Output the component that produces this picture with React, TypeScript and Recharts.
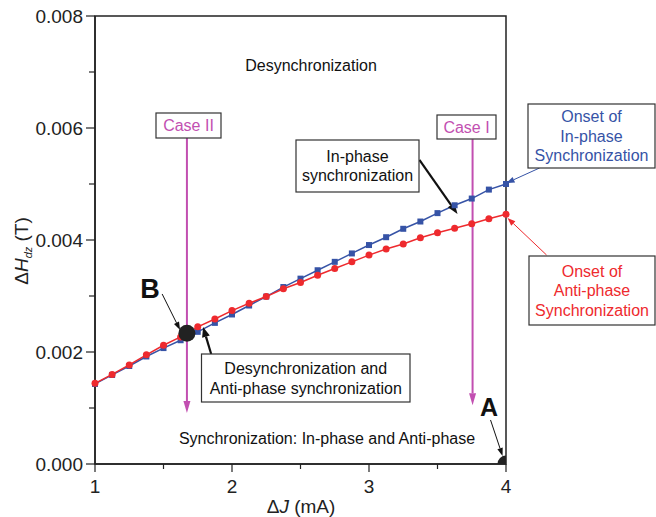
import { ComposedChart, Line, XAxis, YAxis, ReferenceArea, ReferenceLine, ReferenceDot } from "recharts";

// Current difference ΔJ (mA)
const currents = [1, 1.125, 1.25, 1.375, 1.5, 1.625, 1.75, 1.875, 2, 2.125, 2.25, 2.375, 2.5, 2.625, 2.75, 2.875, 3, 3.125, 3.25, 3.375, 3.5, 3.625, 3.75, 3.875, 4];
const antiPhase = [0.00144, 0.0016, 0.00177, 0.00195, 0.00212, 0.00227, 0.00245, 0.00259, 0.00274, 0.00287, 0.00299, 0.00313, 0.00324, 0.00337, 0.00349, 0.00361, 0.00373, 0.00384, 0.00393, 0.00404, 0.00413, 0.00421, 0.00429, 0.00438, 0.00446];
const inPhase = [0.00143, 0.00159, 0.00175, 0.00192, 0.00207, 0.00221, 0.00236, 0.00252, 0.00267, 0.00283, 0.00299, 0.00316, 0.00331, 0.00346, 0.00361, 0.00376, 0.00391, 0.00405, 0.0042, 0.00433, 0.00448, 0.00462, 0.00474, 0.0049, 0.005];
const xTicks = [1, 1.5, 2, 2.5, 3, 3.5, 4];
const yTicks = [0, 0.001, 0.002, 0.003, 0.004, 0.005, 0.006, 0.007, 0.008];

const data = currents.map((j, i) => ({ j, anti: antiPhase[i], inph: inPhase[i] }));

const FONT = "'Liberation Sans', Arial, sans-serif";
const BLUE = "#3653a6";
const RED = "#ee2a2e";
const MAGENTA = "#c24fb1";

function arrow(color: string, sw: number, len: number, half: number) {
  return (p: any) => {
    const { x1, y1, x2, y2 } = p;
    const a = Math.atan2(y2 - y1, x2 - x1);
    const bx = x2 - len * Math.cos(a);
    const by = y2 - len * Math.sin(a);
    const px = -Math.sin(a) * half;
    const py = Math.cos(a) * half;
    return (
      <g>
        <line x1={x1} y1={y1} x2={bx} y2={by} stroke={color} strokeWidth={sw} />
        <polygon points={`${x2},${y2} ${bx + px},${by + py} ${bx - px},${by - py}`} fill={color} />
      </g>
    );
  };
}

const XTick = (p: any) => {
  const v = p.payload.value;
  const major = Number.isInteger(v);
  return (
    <g>
      <line x1={p.x} x2={p.x} y1={p.y} y2={p.y + (major ? 8 : 5)} stroke="#222" strokeWidth={1.2} />
      {major && (
        <text x={p.x} y={p.y + 29} textAnchor="middle" fontSize={19} fontFamily={FONT} fill="#222">
          {v}
        </text>
      )}
    </g>
  );
};

const YTick = (p: any) => {
  const v = p.payload.value;
  const major = Math.round(v * 1000) % 2 === 0;
  return (
    <g>
      <line x1={p.x - (major ? 9 : 6)} x2={p.x} y1={p.y} y2={p.y} stroke="#222" strokeWidth={1.2} />
      {major && (
        <text x={p.x - 12} y={p.y + 6.5} textAnchor="end" fontSize={19} fontFamily={FONT} fill="#222">
          {v.toFixed(3)}
        </text>
      )}
    </g>
  );
};

const Square = (p: any) => (
  <rect key={p.key} x={p.cx - 3} y={p.cy - 3} width={6} height={6} fill={BLUE} />
);

function Box({ x, y, w, h, lines, color, lh }: { x: number; y: number; w: number; h: number; lines: string[]; color: string; lh: number }) {
  const cx = x + w / 2;
  const start = y + h / 2 - ((lines.length - 1) * lh) / 2 + 5.5;
  return (
    <g>
      <rect x={x} y={y} width={w} height={h} fill="#fff" stroke="#333" strokeWidth={1.2} />
      {lines.map((t, i) => (
        <text key={i} x={cx} y={start + i * lh} textAnchor="middle" fontSize={16} fontFamily={FONT} fill={color}>
          {t}
        </text>
      ))}
    </g>
  );
}

export default function App() {
  return (
    <div style={{ position: "absolute", left: 0, top: 0, width: 656, height: 517, background: "#fff" }}>
      <ComposedChart width={656} height={517} data={data} margin={{ top: 16, right: 150, bottom: 0, left: 0 }}>
        <XAxis
          dataKey="j"
          type="number"
          domain={[1, 4]}
          ticks={xTicks}
          tickSize={0}
          tickMargin={0}
          tick={<XTick />}
          height={53}
          axisLine={{ stroke: "#222", strokeWidth: 1.5 }}
          tickLine={false}
        />
        <YAxis
          type="number"
          domain={[0, 0.008]}
          ticks={yTicks}
          tickSize={0}
          tickMargin={0}
          tick={<YTick />}
          width={95}
          axisLine={{ stroke: "#222", strokeWidth: 1.5 }}
          tickLine={false}
        />
        <ReferenceArea x1={1} x2={4} y1={0} y2={0.008} fill="none" stroke="#222" strokeWidth={1.5} />
        <Line dataKey="inph" stroke={BLUE} strokeWidth={1.5} dot={Square} isAnimationActive={false} />
        <Line dataKey="anti" stroke={RED} strokeWidth={1.5} dot={{ r: 3.5, fill: RED, stroke: RED, strokeWidth: 0 }} isAnimationActive={false} />
        <ReferenceDot x={1.671} y={0.002334} r={8.5} fill="#222" stroke="none" ifOverflow="visible" />
        <ReferenceDot x={4} y={0} r={8.5} fill="#222" stroke="none" ifOverflow="hidden" />
        <ReferenceLine segment={[{ x: 1.671, y: 0.00582 }, { x: 1.671, y: 0.00091 }]} ifOverflow="visible" shape={arrow(MAGENTA, 2, 12, 3.5)} />
        <ReferenceLine segment={[{ x: 3.756, y: 0.0058 }, { x: 3.756, y: 0.00105 }]} ifOverflow="visible" shape={arrow(MAGENTA, 2, 12, 3.5)} />
        <ReferenceLine segment={[{ x: 3.368, y: 0.00543 }, { x: 3.646, y: 0.004464 }]} ifOverflow="visible" shape={arrow("#111", 2.2, 11, 4)} />
        <ReferenceLine segment={[{ x: 4.245, y: 0.005286 }, { x: 4.004, y: 0.005018 }]} ifOverflow="visible" shape={arrow(BLUE, 1, 8, 3)} />
        <ReferenceLine segment={[{ x: 4.296, y: 0.003732 }, { x: 4.011, y: 0.004393 }]} ifOverflow="visible" shape={arrow(RED, 1, 8, 3)} />
        <ReferenceLine segment={[{ x: 1.49, y: 0.003036 }, { x: 1.621, y: 0.002393 }]} ifOverflow="visible" shape={arrow("#111", 1, 8, 2.8)} />
        <ReferenceLine segment={[{ x: 1.848, y: 0.001964 }, { x: 1.789, y: 0.002446 }]} ifOverflow="visible" shape={arrow("#111", 2.2, 10, 4)} />
        <ReferenceLine segment={[{ x: 3.887, y: 0.000786 }, { x: 3.975, y: 0.000143 }]} ifOverflow="visible" shape={arrow("#111", 1, 8, 2.8)} />
      </ComposedChart>
      <svg width={656} height={517} style={{ position: "absolute", left: 0, top: 0, pointerEvents: "none" }}>
        <text transform="translate(28,251) rotate(-90)" textAnchor="middle" fontSize={19} fontFamily={FONT} fill="#222">
          <tspan>Δ</tspan>
          <tspan fontStyle="italic">H</tspan>
          <tspan fontStyle="italic" fontSize={11} dy={4}>dz</tspan>
          <tspan dy={-4}> (T)</tspan>
        </text>
        <text x={301} y={513} textAnchor="middle" fontSize={19} fontFamily={FONT} fill="#222">
          <tspan>Δ</tspan>
          <tspan fontStyle="italic">J</tspan>
          <tspan> (mA)</tspan>
        </text>
        <text x={311} y={71} textAnchor="middle" fontSize={16} fontFamily={FONT} fill="#111">Desynchronization</text>
        <text x={327} y={444} textAnchor="middle" fontSize={16} fontFamily={FONT} fill="#111">Synchronization: In-phase and Anti-phase</text>
        <Box x={156} y={113} w={65} h={25} lines={["Case II"]} color={MAGENTA} lh={20} />
        <Box x={437} y={115} w={59} h={24} lines={["Case I"]} color={MAGENTA} lh={20} />
        <Box x={296} y={140} w={123} h={52} lines={["In-phase", "synchronization"]} color="#111" lh={19} />
        <Box x={201.5} y={354} w={208.5} h={48} lines={["Desynchronization and", "Anti-phase synchronization"]} color="#111" lh={20} />
        <Box x={528} y={104} w={127} h={64} lines={["Onset of", "In-phase", "Synchronization"]} color={BLUE} lh={19.5} />
        <Box x={529} y={256} w={126} h={69} lines={["Onset of", "Anti-phase", "Synchronization"]} color={RED} lh={19.5} />
        <text x={150} y={298} textAnchor="middle" fontSize={27} fontWeight="bold" fontFamily={FONT} fill="#111">B</text>
        <text x={489} y={416} textAnchor="middle" fontSize={25} fontWeight="bold" fontFamily={FONT} fill="#111">A</text>
      </svg>
    </div>
  );
}
